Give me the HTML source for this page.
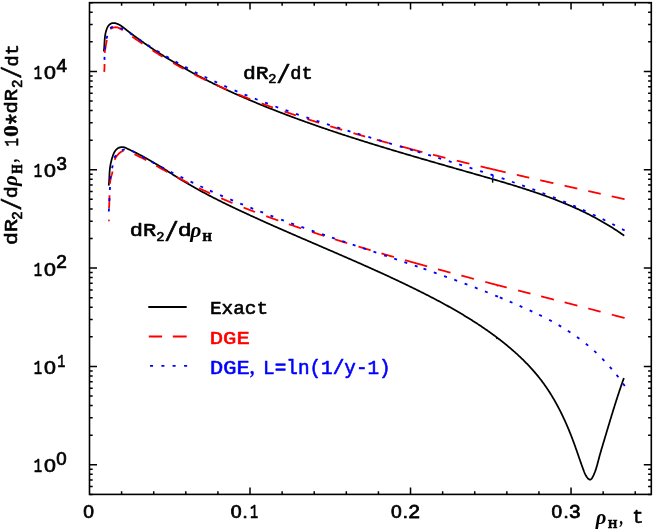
<!DOCTYPE html>
<html><head><meta charset="utf-8"><title>plot</title>
<style>
html,body{margin:0;padding:0;background:#fff;}
svg{display:block;font-family:"Liberation Sans",sans-serif;}
</style></head>
<body>
<svg width="654" height="531" viewBox="0 0 654 531" style="will-change:transform">
<rect width="654" height="531" fill="#fff"/>
<!-- curves -->
<g fill="none" stroke-linejoin="round">
<path d="M103.78 51.50 L103.91 50.50 L104.02 49.49 L104.12 48.49 L104.20 47.49 L104.27 46.49 L104.33 45.50 L104.39 44.50 L104.44 43.51 L104.50 42.52 L104.56 41.52 L104.62 40.53 L104.69 39.55 L104.78 38.56 L104.87 37.57 L104.99 36.59 L105.12 35.60 L105.28 34.62 L105.46 33.63 L105.67 32.65 L105.90 31.67 L106.18 30.69 L106.48 29.70 L106.83 28.73 L107.23 27.78 L107.70 26.86 L108.24 26.01 L108.86 25.23 L109.56 24.54 L110.34 23.96 L111.19 23.50 L112.10 23.19 L113.05 23.03 L114.04 23.03 L115.03 23.16 L116.02 23.40 L117.00 23.73 L117.93 24.11 L118.84 24.55 L119.72 25.03 L120.58 25.55 L121.42 26.10 L122.24 26.68 L123.05 27.27 L123.84 27.88 L124.63 28.50 L125.42 29.12 L126.21 29.74 L127.00 30.36 L127.80 30.98 L128.59 31.59 L129.39 32.20 L130.18 32.81 L130.98 33.42 L131.78 34.03 L132.58 34.63 L133.38 35.23 L134.18 35.83 L134.99 36.43 L135.79 37.03 L136.60 37.62 L137.41 38.21 L138.22 38.80 L139.03 39.39 L139.84 39.98 L140.65 40.56 L141.47 41.14 L142.28 41.72 L143.10 42.30 L143.92 42.87 L144.74 43.45 L145.56 44.02 L146.38 44.59 L147.20 45.16 L148.02 45.72 L148.85 46.29 L149.68 46.85 L150.50 47.41 L151.33 47.97 L152.16 48.53 L152.99 49.08 L153.83 49.63 L154.66 50.19 L155.49 50.73 L156.33 51.28 L157.17 51.83 L158.00 52.37 L158.84 52.91 L159.68 53.45 L160.53 53.99 L161.37 54.53 L162.21 55.06 L163.06 55.59 L163.90 56.12 L164.75 56.65 L165.60 57.18 L166.44 57.71 L167.29 58.23 L168.14 58.75 L169.00 59.27 L169.85 59.79 L170.70 60.31 L171.56 60.82 L172.41 61.34 L173.27 61.85 L174.13 62.36 L174.99 62.87 L175.85 63.37 L176.71 63.88 L177.57 64.38 L178.43 64.88 L179.30 65.38 L180.16 65.88 L181.03 66.38 L181.90 66.87 L182.76 67.37 L183.63 67.86 L184.50 68.35 L185.37 68.84 L186.24 69.32 L187.12 69.81 L187.99 70.29 L188.86 70.77 L189.74 71.25 L190.61 71.73 L191.49 72.21 L192.37 72.69 L193.25 73.16 L194.13 73.63 L195.01 74.10 L195.89 74.57 L196.77 75.04 L197.65 75.51 L198.53 75.97 L199.42 76.44 L200.30 76.90 L201.19 77.36 L202.08 77.82 L202.96 78.28 L203.85 78.73 L204.74 79.19 L205.63 79.64 L206.52 80.09 L207.41 80.54 L208.30 80.99 L209.20 81.44 L210.09 81.89 L210.99 82.33 L211.88 82.78 L212.78 83.22 L213.67 83.66 L214.57 84.10 L215.47 84.54 L216.37 84.97 L217.27 85.41 L218.17 85.84 L219.07 86.27 L219.97 86.70 L220.87 87.13 L221.77 87.56 L222.68 87.99 L223.58 88.42 L224.48 88.84 L225.39 89.26 L226.30 89.69 L227.20 90.11 L228.11 90.53 L229.02 90.94 L229.93 91.36 L230.83 91.78 L231.74 92.19 L232.65 92.61 L233.56 93.02 L234.48 93.43 L235.39 93.84 L236.30 94.25 L237.21 94.65 L238.13 95.06 L239.04 95.46 L239.96 95.87 L240.87 96.27 L241.79 96.67 L242.70 97.07 L243.62 97.47 L244.54 97.87 L245.45 98.27 L246.37 98.66 L247.29 99.06 L248.21 99.45 L249.13 99.84 L250.05 100.23 L250.97 100.62 L251.89 101.01 L252.81 101.40 L253.73 101.79 L254.66 102.17 L255.58 102.56 L256.50 102.94 L257.42 103.32 L258.35 103.71 L259.27 104.09 L260.20 104.47 L261.12 104.84 L262.05 105.22 L262.97 105.60 L263.90 105.97 L264.83 106.35 L265.75 106.72 L266.68 107.09 L267.61 107.47 L268.54 107.84 L269.47 108.21 L270.39 108.58 L271.32 108.94 L272.25 109.31 L273.18 109.68 L274.11 110.04 L275.04 110.41 L275.97 110.77 L276.90 111.13 L277.83 111.49 L278.77 111.85 L279.70 112.21 L280.63 112.57 L281.56 112.93 L282.49 113.29 L283.43 113.64 L284.36 114.00 L285.29 114.35 L286.23 114.71 L287.16 115.06 L288.10 115.41 L289.03 115.76 L289.97 116.11 L290.90 116.46 L291.84 116.81 L292.77 117.16 L293.71 117.51 L294.64 117.85 L295.58 118.20 L296.52 118.54 L297.45 118.89 L298.39 119.23 L299.33 119.57 L300.27 119.91 L301.21 120.26 L302.14 120.60 L303.08 120.93 L304.02 121.27 L304.96 121.61 L305.90 121.95 L306.84 122.28 L307.78 122.62 L308.72 122.95 L309.66 123.29 L310.60 123.62 L311.54 123.95 L312.48 124.29 L313.42 124.62 L314.37 124.95 L315.31 125.28 L316.25 125.60 L317.19 125.93 L318.14 126.26 L319.08 126.59 L320.02 126.91 L320.96 127.24 L321.91 127.56 L322.85 127.89 L323.80 128.21 L324.74 128.53 L325.68 128.86 L326.63 129.18 L327.57 129.50 L328.52 129.82 L329.47 130.14 L330.41 130.46 L331.36 130.78 L332.30 131.09 L333.25 131.41 L334.20 131.73 L335.14 132.04 L336.09 132.36 L337.04 132.67 L337.98 132.99 L338.93 133.30 L339.88 133.61 L340.83 133.92 L341.78 134.24 L342.72 134.55 L343.67 134.86 L344.62 135.17 L345.57 135.48 L346.52 135.79 L347.47 136.09 L348.42 136.40 L349.37 136.71 L350.32 137.02 L351.27 137.32 L352.22 137.63 L353.17 137.93 L354.12 138.24 L355.07 138.54 L356.02 138.84 L356.97 139.15 L357.92 139.45 L358.88 139.75 L359.83 140.05 L360.78 140.35 L361.73 140.65 L362.68 140.95 L363.64 141.25 L364.59 141.55 L365.54 141.85 L366.50 142.15 L367.45 142.45 L368.40 142.75 L369.36 143.04 L370.31 143.34 L371.26 143.63 L372.22 143.93 L373.17 144.23 L374.13 144.52 L375.08 144.81 L376.04 145.11 L376.99 145.40 L377.95 145.69 L378.90 145.99 L379.86 146.28 L380.81 146.57 L381.77 146.86 L382.72 147.15 L383.68 147.44 L384.64 147.73 L385.59 148.02 L386.55 148.31 L387.50 148.60 L388.46 148.89 L389.42 149.18 L390.37 149.47 L391.33 149.76 L392.29 150.04 L393.25 150.33 L394.20 150.62 L395.16 150.91 L396.12 151.19 L397.08 151.48 L398.03 151.76 L398.99 152.05 L399.95 152.33 L400.91 152.62 L401.87 152.90 L402.83 153.19 L403.78 153.47 L404.74 153.76 L405.70 154.04 L406.66 154.32 L407.62 154.60 L408.58 154.89 L409.54 155.17 L410.50 155.45 L411.46 155.73 L412.42 156.01 L413.38 156.30 L414.34 156.58 L415.30 156.86 L416.26 157.14 L417.22 157.42 L418.18 157.70 L419.14 157.98 L420.10 158.26 L421.06 158.54 L422.02 158.82 L422.98 159.10 L423.94 159.38 L424.90 159.66 L425.86 159.94 L426.82 160.21 L427.79 160.49 L428.75 160.77 L429.71 161.05 L430.67 161.33 L431.63 161.61 L432.59 161.88 L433.55 162.16 L434.52 162.44 L435.48 162.72 L436.44 162.99 L437.40 163.27 L438.36 163.55 L439.33 163.82 L440.29 164.10 L441.25 164.38 L442.21 164.65 L443.17 164.93 L444.14 165.21 L445.10 165.48 L446.06 165.76 L447.02 166.04 L447.99 166.31 L448.95 166.59 L449.91 166.86 L450.88 167.14 L451.84 167.42 L452.80 167.69 L453.76 167.97 L454.73 168.24 L455.69 168.52 L456.65 168.79 L457.62 169.07 L458.58 169.35 L459.54 169.62 L460.51 169.90 L461.47 170.17 L462.43 170.45 L463.40 170.72 L464.36 171.00 L465.32 171.28 L466.29 171.55 L467.25 171.83 L468.21 172.10 L469.18 172.38 L470.14 172.66 L471.10 172.93 L472.07 173.21 L473.03 173.48 L473.99 173.76 L474.96 174.04 L475.92 174.31 L476.88 174.59 L477.85 174.87 L478.81 175.14 L479.78 175.42 L480.74 175.69 L481.70 175.97 L482.67 176.25 L483.63 176.53 L484.59 176.80 L485.56 177.08 L486.52 177.36 L487.48 177.64 L488.45 177.91 L489.41 178.19 L490.37 178.47 L491.34 178.75 L492.30 179.03 L493.26 179.31 L494.23 179.59 L495.19 179.87 L496.15 180.15 L497.11 180.44 L498.07 180.72 L499.04 181.00 L500.00 181.28 L500.96 181.57 L501.92 181.85 L502.88 182.14 L503.84 182.42 L504.80 182.71 L505.76 183.00 L506.72 183.29 L507.68 183.57 L508.64 183.86 L509.60 184.15 L510.56 184.45 L511.51 184.74 L512.47 185.03 L513.43 185.33 L514.39 185.62 L515.34 185.92 L516.30 186.21 L517.25 186.51 L518.21 186.81 L519.16 187.11 L520.12 187.41 L521.07 187.71 L522.03 188.02 L522.98 188.32 L523.93 188.62 L524.88 188.93 L525.83 189.24 L526.79 189.55 L527.74 189.86 L528.69 190.17 L529.63 190.48 L530.58 190.80 L531.53 191.11 L532.48 191.43 L533.42 191.75 L534.37 192.07 L535.32 192.39 L536.26 192.71 L537.20 193.04 L538.15 193.36 L539.09 193.69 L540.03 194.02 L540.97 194.35 L541.91 194.68 L542.85 195.02 L543.79 195.35 L544.73 195.69 L545.67 196.03 L546.61 196.37 L547.54 196.71 L548.48 197.05 L549.41 197.40 L550.34 197.75 L551.28 198.10 L552.21 198.45 L553.14 198.80 L554.07 199.16 L555.00 199.52 L555.93 199.87 L556.85 200.24 L557.78 200.60 L558.71 200.96 L559.63 201.33 L560.55 201.70 L561.48 202.07 L562.40 202.45 L563.32 202.82 L564.24 203.20 L565.16 203.58 L566.08 203.97 L566.99 204.35 L567.91 204.74 L568.82 205.13 L569.74 205.52 L570.65 205.91 L571.56 206.31 L572.47 206.71 L573.38 207.11 L574.29 207.52 L575.19 207.92 L576.10 208.33 L577.00 208.74 L577.91 209.16 L578.81 209.57 L579.71 209.99 L580.61 210.41 L581.51 210.84 L582.41 211.27 L583.30 211.70 L584.20 212.13 L585.09 212.56 L585.98 213.00 L586.87 213.44 L587.76 213.89 L588.65 214.33 L589.54 214.78 L590.42 215.24 L591.31 215.69 L592.19 216.15 L593.07 216.61 L593.95 217.08 L594.83 217.54 L595.71 218.01 L596.58 218.49 L597.46 218.96 L598.33 219.44 L599.20 219.93 L600.07 220.41 L600.94 220.90 L601.81 221.39 L602.67 221.89 L603.54 222.39 L604.40 222.89 L605.26 223.40 L606.12 223.90 L606.98 224.42 L607.84 224.93 L608.69 225.45 L609.55 225.97 L610.40 226.50 L611.25 227.03 L612.10 227.56 L612.94 228.10 L613.79 228.64 L614.63 229.18 L615.47 229.73 L616.31 230.28 L617.15 230.83 L617.99 231.39 L618.82 231.95 L619.66 232.51 L620.49 233.08 L621.32 233.66 L622.15 234.23 L622.97 234.81 L623.80 235.40 L624.21 235.69" stroke="#000" stroke-width="1.75"/>
<path d="M108.70 185.70 L108.82 184.68 L108.93 183.67 L109.02 182.66 L109.09 181.66 L109.16 180.66 L109.22 179.66 L109.27 178.67 L109.32 177.68 L109.36 176.69 L109.40 175.71 L109.45 174.72 L109.50 173.74 L109.55 172.76 L109.62 171.77 L109.69 170.79 L109.77 169.81 L109.87 168.82 L109.98 167.83 L110.12 166.84 L110.27 165.84 L110.44 164.84 L110.64 163.84 L110.86 162.84 L111.09 161.84 L111.34 160.84 L111.61 159.84 L111.89 158.86 L112.17 157.88 L112.47 156.92 L112.77 155.97 L113.10 155.04 L113.46 154.12 L113.85 153.23 L114.29 152.36 L114.77 151.52 L115.32 150.71 L115.94 149.94 L116.63 149.24 L117.42 148.61 L118.29 148.07 L119.23 147.62 L120.22 147.30 L121.22 147.10 L122.23 147.05 L123.21 147.15 L124.18 147.37 L125.12 147.68 L126.06 148.06 L126.98 148.49 L127.90 148.92 L128.82 149.35 L129.73 149.79 L130.65 150.23 L131.55 150.67 L132.46 151.11 L133.36 151.55 L134.26 151.99 L135.16 152.44 L136.05 152.89 L136.94 153.34 L137.83 153.79 L138.72 154.24 L139.60 154.70 L140.48 155.16 L141.36 155.62 L142.24 156.08 L143.12 156.55 L143.99 157.02 L144.86 157.49 L145.73 157.97 L146.60 158.44 L147.46 158.93 L148.33 159.41 L149.19 159.90 L150.05 160.39 L150.91 160.89 L151.77 161.39 L152.63 161.89 L153.48 162.40 L154.34 162.91 L155.19 163.42 L156.05 163.94 L156.90 164.46 L157.75 164.98 L158.60 165.50 L159.45 166.03 L160.30 166.56 L161.15 167.09 L162.00 167.63 L162.84 168.16 L163.69 168.70 L164.54 169.24 L165.38 169.78 L166.23 170.32 L167.08 170.86 L167.92 171.40 L168.77 171.94 L169.62 172.48 L170.47 173.02 L171.31 173.57 L172.16 174.11 L173.01 174.65 L173.86 175.19 L174.71 175.73 L175.56 176.26 L176.41 176.80 L177.26 177.33 L178.11 177.87 L178.97 178.40 L179.82 178.93 L180.68 179.45 L181.54 179.98 L182.39 180.50 L183.25 181.02 L184.11 181.53 L184.97 182.05 L185.84 182.56 L186.70 183.07 L187.56 183.58 L188.43 184.09 L189.30 184.59 L190.16 185.09 L191.03 185.59 L191.90 186.09 L192.77 186.58 L193.64 187.08 L194.52 187.57 L195.39 188.06 L196.26 188.55 L197.14 189.03 L198.01 189.52 L198.89 190.00 L199.77 190.48 L200.65 190.96 L201.53 191.43 L202.41 191.91 L203.29 192.38 L204.17 192.85 L205.05 193.32 L205.94 193.79 L206.82 194.26 L207.70 194.72 L208.59 195.19 L209.48 195.65 L210.36 196.11 L211.25 196.57 L212.14 197.03 L213.03 197.48 L213.92 197.94 L214.81 198.39 L215.70 198.84 L216.59 199.29 L217.49 199.74 L218.38 200.19 L219.27 200.64 L220.17 201.08 L221.06 201.53 L221.96 201.97 L222.85 202.41 L223.75 202.85 L224.65 203.29 L225.54 203.73 L226.44 204.17 L227.34 204.60 L228.24 205.04 L229.14 205.47 L230.04 205.91 L230.94 206.34 L231.84 206.77 L232.74 207.20 L233.64 207.63 L234.55 208.06 L235.45 208.49 L236.35 208.92 L237.26 209.34 L238.16 209.77 L239.06 210.20 L239.97 210.62 L240.87 211.04 L241.78 211.47 L242.68 211.89 L243.59 212.31 L244.50 212.73 L245.40 213.15 L246.31 213.58 L247.22 213.99 L248.12 214.41 L249.03 214.83 L249.94 215.25 L250.85 215.67 L251.76 216.08 L252.66 216.50 L253.57 216.91 L254.48 217.33 L255.39 217.74 L256.30 218.16 L257.21 218.57 L258.12 218.98 L259.03 219.40 L259.94 219.81 L260.86 220.22 L261.77 220.63 L262.68 221.04 L263.59 221.45 L264.50 221.86 L265.41 222.27 L266.33 222.68 L267.24 223.08 L268.15 223.49 L269.07 223.90 L269.98 224.30 L270.89 224.71 L271.81 225.12 L272.72 225.52 L273.64 225.93 L274.55 226.33 L275.46 226.74 L276.38 227.14 L277.29 227.54 L278.21 227.95 L279.12 228.35 L280.04 228.75 L280.96 229.15 L281.87 229.56 L282.79 229.96 L283.70 230.36 L284.62 230.76 L285.54 231.16 L286.45 231.56 L287.37 231.96 L288.29 232.36 L289.20 232.76 L290.12 233.16 L291.04 233.56 L291.95 233.96 L292.87 234.36 L293.79 234.76 L294.71 235.15 L295.62 235.55 L296.54 235.95 L297.46 236.35 L298.38 236.75 L299.30 237.14 L300.21 237.54 L301.13 237.94 L302.05 238.33 L302.97 238.73 L303.89 239.13 L304.81 239.52 L305.72 239.92 L306.64 240.32 L307.56 240.71 L308.48 241.11 L309.40 241.51 L310.32 241.90 L311.24 242.30 L312.15 242.69 L313.07 243.09 L313.99 243.49 L314.91 243.88 L315.83 244.28 L316.75 244.67 L317.67 245.07 L318.59 245.47 L319.51 245.86 L320.42 246.26 L321.34 246.65 L322.26 247.05 L323.18 247.45 L324.10 247.84 L325.02 248.24 L325.94 248.63 L326.86 249.03 L327.77 249.43 L328.69 249.82 L329.61 250.22 L330.53 250.62 L331.45 251.01 L332.37 251.41 L333.28 251.81 L334.20 252.20 L335.12 252.60 L336.04 253.00 L336.96 253.40 L337.88 253.79 L338.79 254.19 L339.71 254.59 L340.63 254.99 L341.55 255.39 L342.46 255.78 L343.38 256.18 L344.30 256.58 L345.22 256.98 L346.13 257.38 L347.05 257.78 L347.97 258.18 L348.88 258.58 L349.80 258.98 L350.72 259.38 L351.63 259.79 L352.55 260.19 L353.46 260.59 L354.38 260.99 L355.30 261.39 L356.21 261.80 L357.13 262.20 L358.04 262.60 L358.96 263.01 L359.87 263.41 L360.79 263.82 L361.70 264.22 L362.62 264.63 L363.53 265.03 L364.44 265.44 L365.36 265.84 L366.27 266.25 L367.18 266.66 L368.10 267.07 L369.01 267.47 L369.92 267.88 L370.83 268.29 L371.75 268.70 L372.66 269.11 L373.57 269.52 L374.48 269.93 L375.39 270.35 L376.30 270.76 L377.21 271.17 L378.13 271.58 L379.04 272.00 L379.95 272.41 L380.85 272.83 L381.76 273.24 L382.67 273.66 L383.58 274.07 L384.49 274.49 L385.40 274.91 L386.31 275.33 L387.21 275.74 L388.12 276.16 L389.03 276.58 L389.94 277.00 L390.84 277.43 L391.75 277.85 L392.65 278.27 L393.56 278.69 L394.47 279.12 L395.37 279.54 L396.28 279.97 L397.18 280.39 L398.08 280.82 L398.99 281.25 L399.89 281.67 L400.79 282.10 L401.70 282.53 L402.60 282.96 L403.50 283.39 L404.40 283.83 L405.30 284.26 L406.20 284.69 L407.10 285.13 L408.00 285.56 L408.90 286.00 L409.80 286.43 L410.70 286.87 L411.60 287.31 L412.50 287.75 L413.39 288.19 L414.29 288.63 L415.19 289.07 L416.08 289.51 L416.98 289.95 L417.87 290.40 L418.77 290.84 L419.66 291.29 L420.56 291.73 L421.45 292.18 L422.34 292.63 L423.24 293.08 L424.13 293.53 L425.02 293.98 L425.91 294.43 L426.80 294.89 L427.69 295.34 L428.58 295.80 L429.47 296.25 L430.36 296.71 L431.25 297.17 L432.13 297.63 L433.02 298.09 L433.91 298.55 L434.79 299.02 L435.68 299.48 L436.56 299.95 L437.44 300.41 L438.33 300.88 L439.21 301.35 L440.09 301.82 L440.97 302.30 L441.85 302.77 L442.73 303.25 L443.60 303.72 L444.48 304.20 L445.36 304.68 L446.23 305.16 L447.11 305.64 L447.98 306.13 L448.85 306.61 L449.73 307.10 L450.60 307.59 L451.47 308.08 L452.34 308.57 L453.21 309.06 L454.07 309.56 L454.94 310.05 L455.80 310.55 L456.67 311.05 L457.53 311.55 L458.39 312.06 L459.26 312.56 L460.12 313.07 L460.98 313.58 L461.83 314.09 L462.69 314.60 L463.55 315.11 L464.40 315.63 L465.26 316.14 L466.11 316.66 L466.96 317.19 L467.81 317.71 L468.66 318.23 L469.51 318.76 L470.35 319.29 L471.20 319.82 L472.04 320.35 L472.89 320.89 L473.73 321.43 L474.57 321.96 L475.41 322.51 L476.25 323.05 L477.08 323.59 L477.92 324.14 L478.75 324.69 L479.59 325.24 L480.42 325.80 L481.25 326.35 L482.08 326.91 L482.90 327.47 L483.73 328.04 L484.55 328.60 L485.38 329.17 L486.20 329.74 L487.02 330.31 L487.84 330.89 L488.66 331.46 L489.47 332.04 L490.28 332.63 L491.10 333.21 L491.91 333.80 L492.72 334.39 L493.53 334.98 L494.33 335.57 L495.14 336.17 L495.94 336.77 L496.74 337.37 L497.54 337.98 L498.34 338.58 L499.14 339.19 L499.93 339.81 L500.72 340.42 L501.52 341.04 L502.30 341.66 L503.09 342.28 L503.88 342.91 L504.66 343.54 L505.44 344.17 L506.22 344.80 L507.00 345.44 L507.77 346.08 L508.54 346.72 L509.31 347.37 L510.08 348.01 L510.84 348.66 L511.61 349.32 L512.36 349.97 L513.12 350.63 L513.88 351.30 L514.63 351.96 L515.38 352.63 L516.12 353.30 L516.86 353.98 L517.60 354.65 L518.34 355.33 L519.08 356.02 L519.81 356.70 L520.53 357.39 L521.26 358.08 L521.98 358.78 L522.70 359.48 L523.41 360.18 L524.12 360.88 L524.83 361.59 L525.54 362.30 L526.24 363.02 L526.93 363.73 L527.63 364.45 L528.32 365.18 L529.00 365.90 L529.69 366.63 L530.36 367.37 L531.04 368.10 L531.71 368.84 L532.38 369.58 L533.04 370.33 L533.70 371.08 L534.35 371.83 L535.00 372.59 L535.65 373.35 L536.29 374.11 L536.93 374.88 L537.56 375.65 L538.19 376.42 L538.81 377.20 L539.43 377.98 L540.04 378.76 L540.65 379.55 L541.26 380.34 L541.86 381.13 L542.45 381.93 L543.05 382.73 L543.63 383.53 L544.21 384.34 L544.79 385.15 L545.36 385.97 L545.93 386.78 L546.49 387.60 L547.05 388.43 L547.61 389.25 L548.16 390.08 L548.70 390.92 L549.24 391.75 L549.78 392.59 L550.31 393.43 L550.84 394.28 L551.37 395.12 L551.89 395.97 L552.40 396.83 L552.91 397.68 L553.42 398.54 L553.93 399.40 L554.43 400.26 L554.92 401.13 L555.41 402.00 L555.90 402.87 L556.38 403.74 L556.86 404.62 L557.34 405.50 L557.81 406.38 L558.28 407.26 L558.75 408.14 L559.21 409.03 L559.66 409.92 L560.12 410.81 L560.57 411.70 L561.01 412.60 L561.46 413.50 L561.90 414.40 L562.33 415.30 L562.77 416.20 L563.19 417.11 L563.62 418.01 L564.04 418.92 L564.46 419.83 L564.88 420.74 L565.29 421.66 L565.70 422.57 L566.10 423.49 L566.51 424.41 L566.91 425.33 L567.30 426.25 L567.70 427.17 L568.09 428.09 L568.47 429.02 L568.86 429.95 L569.24 430.87 L569.62 431.80 L569.99 432.73 L570.37 433.66 L570.74 434.60 L571.10 435.53 L571.47 436.46 L571.83 437.40 L572.19 438.33 L572.54 439.27 L572.90 440.21 L573.25 441.15 L573.60 442.09 L573.94 443.03 L574.29 443.97 L574.63 444.91 L574.97 445.85 L575.30 446.80 L575.64 447.74 L575.97 448.68 L576.30 449.63 L576.63 450.57 L576.96 451.52 L577.29 452.46 L577.61 453.40 L577.94 454.35 L578.27 455.29 L578.59 456.24 L578.92 457.18 L579.25 458.13 L579.57 459.07 L579.90 460.02 L580.23 460.96 L580.56 461.90 L580.89 462.85 L581.22 463.79 L581.56 464.73 L581.89 465.67 L582.23 466.61 L582.57 467.55 L582.91 468.49 L583.26 469.42 L583.61 470.36 L583.96 471.30 L584.33 472.23 L584.71 473.15 L585.13 474.06 L585.58 474.95 L586.07 475.83 L586.61 476.69 L587.21 477.52 L587.87 478.33 L588.61 479.08 L589.41 479.59 L590.26 479.61 L591.06 479.21 L591.73 478.54 L592.29 477.69 L592.80 476.76 L593.27 475.82 L593.72 474.88 L594.13 473.94 L594.53 473.00 L594.91 472.05 L595.26 471.11 L595.60 470.16 L595.91 469.21 L596.22 468.26 L596.51 467.31 L596.79 466.36 L597.06 465.40 L597.32 464.45 L597.58 463.49 L597.83 462.54 L598.08 461.58 L598.33 460.62 L598.58 459.66 L598.83 458.70 L599.08 457.74 L599.34 456.78 L599.60 455.82 L599.87 454.86 L600.14 453.90 L600.41 452.93 L600.69 451.97 L600.97 451.01 L601.25 450.05 L601.53 449.08 L601.82 448.12 L602.10 447.16 L602.39 446.19 L602.68 445.23 L602.97 444.27 L603.26 443.31 L603.55 442.34 L603.84 441.38 L604.13 440.42 L604.41 439.46 L604.70 438.50 L604.99 437.54 L605.28 436.58 L605.57 435.62 L605.85 434.66 L606.14 433.70 L606.43 432.74 L606.71 431.79 L607.00 430.83 L607.29 429.87 L607.57 428.91 L607.86 427.96 L608.15 427.00 L608.43 426.05 L608.72 425.09 L609.01 424.13 L609.30 423.18 L609.58 422.22 L609.87 421.27 L610.16 420.32 L610.45 419.36 L610.74 418.41 L611.03 417.45 L611.32 416.50 L611.61 415.55 L611.90 414.60 L612.19 413.64 L612.49 412.69 L612.78 411.74 L613.07 410.79 L613.37 409.83 L613.66 408.88 L613.96 407.93 L614.25 406.98 L614.55 406.03 L614.85 405.08 L615.15 404.13 L615.45 403.18 L615.75 402.22 L616.06 401.27 L616.36 400.32 L616.66 399.37 L616.97 398.42 L617.28 397.47 L617.59 396.52 L617.90 395.57 L618.21 394.62 L618.52 393.67 L618.83 392.72 L619.15 391.77 L619.46 390.82 L619.78 389.87 L620.10 388.92 L620.42 387.97 L620.75 387.02 L621.07 386.07 L621.40 385.12 L621.73 384.17 L622.06 383.22 L622.39 382.27 L622.72 381.33 L623.05 380.38 L623.39 379.43 L623.73 378.47 L623.90 378.00" stroke="#000" stroke-width="1.75"/>
<path d="M492.5 179 L492.7 182.6" stroke="#000" stroke-width="1.4"/>
<path d="M491.6 174.6 L493.2 176 L492.6 178.6" stroke="#00f" stroke-width="1.3"/>
<path d="M497.2 337.5 l-0.6 1.6" stroke="#000" stroke-width="1.2"/>
<path d="M497.3 285 l0 1.6" stroke="#f00" stroke-width="1.2"/>
<path d="M104.20 71.90 L104.25 71.41 L104.29 70.91 L104.33 70.41 L104.37 69.91 L104.40 69.42 L104.42 68.92 L104.45 68.42 L104.46 67.92 L104.48 67.42 L104.49 66.91 L104.50 66.41 L104.51 65.91 L104.51 65.41 L104.51 64.91 L104.51 64.40 L104.51 63.90 M104.74 52.91 L104.78 52.42 L104.84 51.93 L104.89 51.44 L104.95 50.95 L105.02 50.46 L105.09 49.97 L105.16 49.48 L105.24 48.99 L105.32 48.51 L105.40 48.02 L105.48 47.52 L105.57 47.03 L105.65 46.54 L105.74 46.05 L105.83 45.55 L105.92 45.05 L106.01 44.55 L106.10 44.05 L106.19 43.55 L106.28 43.05 L106.36 42.54 L106.45 42.03 L106.54 41.51 L106.62 41.00 L106.70 40.48 L106.78 39.96 M110.40 29.17 L110.76 28.86 L111.15 28.58 L111.56 28.32 L111.99 28.09 L112.44 27.88 L112.90 27.70 L113.37 27.55 L113.85 27.43 L114.34 27.34 L114.84 27.28 L115.33 27.25 L115.82 27.26 L116.31 27.30 L116.79 27.37 L117.27 27.48 L117.74 27.61 L118.21 27.76 L118.67 27.94 L119.14 28.14 L119.59 28.36 L120.05 28.59 L120.50 28.84 L120.94 29.10 L121.39 29.36 L121.83 29.64 L122.26 29.92 L122.70 30.20 M132.20 36.66 L132.61 36.94 L133.01 37.22 L133.42 37.50 L133.83 37.78 L134.23 38.06 L134.64 38.35 L135.05 38.63 L135.46 38.91 L135.86 39.19 L136.27 39.47 L136.68 39.75 L137.09 40.03 L137.50 40.31 L137.91 40.60 L138.32 40.88 L138.73 41.16 L139.14 41.44 L139.55 41.72 L139.96 42.00 L140.38 42.28 L140.79 42.56 L141.20 42.84 L141.61 43.12 L142.03 43.40 L142.44 43.68 M152.45 50.32 L152.87 50.59 L153.29 50.87 L153.72 51.14 L154.14 51.41 L154.56 51.68 L154.98 51.95 L155.41 52.22 L155.83 52.49 L156.25 52.76 L156.67 53.03 L157.10 53.30 L157.52 53.57 L157.95 53.84 L158.37 54.11 L158.80 54.37 L159.22 54.64 L159.65 54.91 L160.07 55.17 L160.50 55.44 L160.93 55.70 L161.35 55.97 L161.78 56.23 L162.21 56.49 L162.63 56.75 M173.19 63.02 L173.62 63.27 L174.05 63.52 L174.49 63.77 L174.92 64.01 L175.36 64.26 L175.79 64.51 L176.23 64.75 L176.66 65.00 L177.10 65.25 L177.54 65.49 L177.97 65.73 L178.41 65.98 L178.85 66.22 L179.28 66.46 L179.72 66.71 L180.16 66.95 L180.60 67.19 L181.03 67.43 L181.47 67.67 L181.91 67.91 L182.35 68.15 L182.79 68.39 L183.23 68.62 L183.67 68.86 M194.51 74.54 L194.95 74.76 L195.40 74.99 L195.84 75.21 L196.29 75.44 L196.74 75.66 L197.18 75.89 L197.63 76.11 L198.08 76.33 L198.52 76.55 L198.97 76.77 L199.42 77.00 L199.86 77.22 L200.31 77.44 L200.76 77.66 L201.21 77.88 L201.66 78.10 L202.11 78.31 L202.55 78.53 L203.00 78.75 L203.45 78.97 L203.90 79.19 L204.35 79.40 L204.80 79.62 L205.25 79.83 L205.70 80.05 L205.93 80.16 M216.34 84.99 L216.79 85.19 L217.25 85.40 L217.70 85.60 L218.16 85.81 L218.61 86.01 L219.07 86.22 L219.52 86.42 L219.98 86.62 L220.44 86.82 L220.89 87.02 L221.35 87.23 L221.81 87.43 L222.26 87.63 L222.72 87.83 L223.18 88.03 L223.63 88.23 L224.09 88.43 L224.55 88.63 L225.01 88.82 L225.47 89.02 L225.92 89.22 L226.38 89.42 L226.84 89.61 L227.30 89.81 M238.36 94.43 L238.82 94.61 L239.28 94.80 L239.75 94.99 L240.21 95.18 L240.67 95.36 L241.14 95.55 L241.60 95.73 L242.06 95.92 L242.53 96.11 L242.99 96.29 L243.46 96.48 L243.92 96.66 L244.38 96.84 L244.85 97.03 L245.31 97.21 L245.78 97.39 L246.24 97.58 L246.71 97.76 L247.17 97.94 L247.64 98.12 L248.10 98.31 L248.57 98.49 L249.03 98.67 L249.50 98.85 L249.97 99.03 L250.20 99.12 M261.65 103.44 L262.12 103.62 L262.59 103.79 L263.06 103.96 L263.53 104.13 L264.00 104.31 L264.47 104.48 L264.94 104.65 L265.41 104.82 L265.88 104.99 L266.35 105.16 L266.82 105.33 L267.29 105.50 L267.76 105.67 L268.23 105.84 L268.70 106.01 L269.17 106.18 L269.64 106.35 L270.11 106.52 L270.58 106.69 L271.06 106.85 L271.53 107.02 L272.00 107.19 L272.47 107.36 L272.94 107.52 M284.52 111.55 L284.99 111.71 L285.46 111.87 L285.94 112.03 L286.41 112.19 L286.88 112.35 L287.36 112.51 L287.83 112.67 L288.31 112.83 L288.78 112.99 L289.25 113.15 L289.73 113.31 L290.20 113.47 L290.68 113.63 L291.15 113.79 L291.63 113.95 L292.10 114.10 L292.57 114.26 L293.05 114.42 L293.52 114.58 L294.00 114.74 L294.47 114.89 L294.95 115.05 L295.42 115.21 L295.90 115.36 M307.31 119.08 L307.79 119.23 L308.27 119.39 L308.74 119.54 L309.22 119.69 L309.70 119.84 L310.17 120.00 L310.65 120.15 L311.13 120.30 L311.60 120.45 L312.08 120.60 L312.56 120.75 L313.03 120.90 L313.51 121.06 L313.99 121.21 L314.46 121.36 L314.94 121.51 L315.42 121.66 L315.89 121.81 L316.37 121.96 L316.85 122.11 L317.32 122.26 L317.80 122.41 L318.28 122.56 L318.76 122.71 L318.99 122.78 M330.22 126.25 L330.70 126.40 L331.18 126.54 L331.65 126.69 L332.13 126.84 L332.61 126.98 L333.09 127.13 L333.57 127.27 L334.05 127.42 L334.52 127.56 L335.00 127.71 L335.48 127.85 L335.96 128.00 L336.44 128.14 L336.92 128.28 L337.40 128.43 L337.87 128.57 L338.35 128.72 L338.83 128.86 L339.31 129.00 L339.79 129.15 L340.27 129.29 L340.75 129.43 L341.23 129.58 L341.70 129.72 L342.18 129.86 M353.45 133.18 L353.93 133.32 L354.41 133.46 L354.89 133.60 L355.37 133.74 L355.85 133.88 L356.33 134.02 L356.81 134.16 L357.29 134.29 L357.77 134.43 L358.25 134.57 L358.73 134.71 L359.21 134.85 L359.69 134.99 L360.17 135.12 L360.65 135.26 L361.13 135.40 L361.61 135.54 L362.09 135.68 L362.57 135.81 L363.05 135.95 L363.53 136.09 L364.01 136.22 L364.49 136.36 L364.97 136.50 L365.21 136.57 M376.76 139.82 L377.24 139.95 L377.72 140.08 L378.20 140.22 L378.68 140.35 L379.17 140.48 L379.65 140.62 L380.13 140.75 L380.61 140.88 L381.09 141.02 L381.57 141.15 L382.06 141.28 L382.54 141.42 L383.02 141.55 L383.50 141.68 L383.98 141.81 L384.46 141.95 L384.95 142.08 L385.43 142.21 L385.91 142.34 L386.39 142.47 L386.87 142.60 L387.36 142.74 L387.84 142.87 L388.32 143.00 L388.80 143.13 M400.14 146.19 L400.62 146.32 L401.10 146.44 L401.59 146.57 L402.07 146.70 L402.55 146.83 L403.04 146.96 L403.52 147.09 L404.00 147.21 L404.48 147.34 L404.97 147.47 L405.45 147.60 L405.93 147.73 L406.42 147.85 L406.90 147.98 L407.38 148.11 L407.87 148.24 L408.35 148.36 L408.83 148.49 L409.31 148.62 L409.80 148.74 L410.28 148.87 L410.76 149.00 L411.25 149.12 L411.73 149.25 L412.21 149.38 L412.70 149.50 L413.18 149.63 L413.66 149.76 L414.15 149.88 L414.63 150.01 L415.12 150.13 L415.60 150.26 L416.08 150.39 L416.57 150.51 L417.05 150.64 L417.53 150.76 L418.02 150.89 L418.50 151.01 L418.98 151.14 L419.47 151.26 L419.95 151.39 L420.44 151.51 L420.92 151.64 L421.40 151.76 L421.89 151.89 L422.37 152.01 M433.02 154.73 L433.51 154.85 L433.99 154.98 L434.48 155.10 L434.96 155.22 L435.44 155.34 L435.93 155.47 L436.41 155.59 L436.90 155.71 L437.38 155.83 L437.87 155.95 L438.35 156.08 L438.84 156.20 L439.32 156.32 L439.81 156.44 L440.29 156.56 L440.78 156.68 L441.26 156.80 L441.74 156.93 L442.23 157.05 L442.71 157.17 L443.20 157.29 L443.68 157.41 L444.17 157.53 L444.65 157.65 L445.14 157.77 L445.38 157.83 M456.78 160.65 L457.27 160.77 L457.75 160.89 L458.24 161.00 L458.72 161.12 L459.21 161.24 L459.69 161.36 L460.18 161.48 L460.67 161.60 L461.15 161.72 L461.64 161.83 L462.12 161.95 L462.61 162.07 L463.09 162.19 L463.58 162.31 L464.06 162.42 L464.55 162.54 L465.04 162.66 L465.52 162.78 L466.01 162.90 L466.49 163.01 L466.98 163.13 L467.46 163.25 L467.95 163.37 L468.44 163.48 L468.92 163.60 L469.41 163.72 M480.59 166.40 L481.07 166.51 L481.56 166.63 L482.04 166.74 L482.53 166.86 L483.02 166.97 L483.50 167.09 L483.99 167.21 L484.48 167.32 L484.96 167.44 L485.45 167.55 L485.93 167.67 L486.42 167.78 L486.91 167.90 L487.39 168.01 L487.88 168.13 L488.37 168.24 L488.85 168.36 L489.34 168.47 L489.83 168.59 L490.31 168.70 L490.80 168.82 L491.29 168.93 L491.77 169.05 L492.26 169.16 L492.74 169.27 L493.23 169.39 L493.72 169.50 L494.20 169.62 L494.69 169.73 L495.18 169.85 L495.66 169.96 L496.15 170.07 L496.64 170.19 L497.12 170.30 L497.61 170.42 L498.10 170.53 L498.58 170.64 L499.07 170.76 L499.56 170.87 L500.04 170.99 L500.53 171.10 L501.02 171.21 L501.50 171.33 L501.99 171.44 L502.48 171.55 L502.96 171.67 L503.45 171.78 L503.94 171.89 L504.43 172.01 L504.91 172.12 L505.40 172.23 L505.64 172.29 M516.84 174.88 L517.33 174.99 L517.82 175.11 L518.30 175.22 L518.79 175.33 L519.28 175.44 L519.77 175.56 L520.25 175.67 L520.74 175.78 L521.23 175.89 L521.71 176.00 L522.20 176.11 L522.69 176.23 L523.18 176.34 L523.66 176.45 L524.15 176.56 L524.64 176.67 L525.13 176.79 L525.61 176.90 L526.10 177.01 L526.59 177.12 L527.07 177.23 L527.56 177.34 L528.05 177.45 L528.54 177.57 L529.02 177.68 L529.27 177.73 M540.23 180.23 L540.72 180.34 L541.21 180.45 L541.70 180.56 L542.18 180.67 L542.67 180.78 L543.16 180.89 L543.65 181.00 L544.13 181.11 L544.62 181.23 L545.11 181.34 L545.60 181.45 L546.08 181.56 L546.57 181.67 L547.06 181.78 L547.55 181.89 L548.03 182.00 L548.52 182.11 L549.01 182.22 L549.50 182.33 L549.98 182.44 L550.47 182.55 L550.96 182.66 L551.45 182.77 L551.93 182.88 L552.42 182.99 L552.91 183.10 L553.40 183.21 M564.61 185.74 L565.10 185.85 L565.59 185.96 L566.08 186.07 L566.56 186.18 L567.05 186.29 L567.54 186.39 L568.03 186.50 L568.52 186.61 L569.00 186.72 L569.49 186.83 L569.98 186.94 L570.47 187.05 L570.95 187.16 L571.44 187.27 L571.93 187.38 L572.42 187.49 L572.90 187.60 L573.39 187.71 L573.88 187.82 L574.37 187.93 L574.86 188.04 L575.34 188.15 L575.83 188.26 L576.32 188.37 L576.81 188.48 L577.29 188.59 M588.27 191.05 L588.76 191.16 L589.24 191.26 L589.73 191.37 L590.22 191.48 L590.71 191.59 L591.20 191.70 L591.68 191.81 L592.17 191.92 L592.66 192.03 L593.15 192.14 L593.63 192.25 L594.12 192.36 L594.61 192.47 L595.10 192.58 L595.58 192.69 L596.07 192.80 L596.56 192.90 L597.05 193.01 L597.54 193.12 L598.02 193.23 L598.51 193.34 L599.00 193.45 L599.49 193.56 L599.97 193.67 L600.46 193.78 L600.71 193.83 M611.68 196.30 L612.17 196.41 L612.65 196.52 L613.14 196.63 L613.63 196.74 L614.12 196.85 L614.60 196.96 L615.09 197.06 L615.58 197.17 L616.07 197.28 L616.55 197.39 L617.04 197.50 L617.53 197.61 L618.02 197.72 L618.50 197.83 L618.99 197.94 L619.48 198.05 L619.97 198.16 L620.45 198.27 L620.94 198.38 L621.43 198.49 L621.92 198.60 L622.40 198.71 L622.89 198.82 L623.38 198.93 L623.87 199.04 L624.35 199.15 L624.60 199.21" stroke="#f00" stroke-width="1.8"/>
<path d="M109.00 219.59 L108.88 220.63 L108.82 220.59 M108.97 208.32 L109.02 207.81 L109.06 207.30 L109.09 206.80 L109.13 206.29 L109.16 205.78 L109.19 205.28 L109.22 204.77 L109.25 204.26 L109.27 203.76 L109.29 203.25 L109.31 202.75 L109.33 202.24 L109.35 201.74 L109.37 201.23 L109.38 200.73 L109.39 200.22 L109.41 199.72 L109.42 199.21 L109.43 198.71 L109.44 198.21 L109.45 197.71 L109.46 197.20 L109.47 196.70 L109.48 196.20 L109.49 195.70 L109.49 195.20 M109.98 183.80 L110.02 183.31 L110.07 182.82 L110.12 182.33 L110.18 181.84 L110.24 181.36 L110.30 180.87 L110.37 180.38 L110.45 179.89 L110.54 179.41 L110.63 178.92 L110.72 178.43 L110.83 177.94 L110.94 177.46 L111.07 176.97 L111.20 176.48 L111.34 175.99 L111.48 175.50 L111.63 175.01 L111.77 174.51 L111.92 174.02 L112.07 173.53 L112.21 173.03 L112.34 172.54 L112.47 172.04 L112.59 171.54 M114.67 159.78 L114.84 159.33 L115.03 158.88 L115.24 158.44 L115.46 158.01 L115.69 157.58 L115.94 157.16 L116.21 156.74 L116.49 156.33 L116.78 155.93 L117.09 155.54 L117.41 155.15 L117.74 154.76 L118.09 154.39 L118.46 154.02 L118.83 153.66 L119.22 153.31 L119.62 152.97 L120.03 152.65 L120.45 152.35 L120.88 152.06 L121.31 151.79 L121.75 151.55 L122.20 151.33 L122.65 151.15 L123.11 150.99 L123.57 150.86 M134.48 154.16 L134.96 154.41 L135.44 154.67 L135.92 154.91 L136.40 155.16 L136.88 155.41 L137.36 155.65 L137.84 155.89 L138.32 156.13 L138.80 156.37 L139.28 156.61 L139.75 156.85 L140.23 157.09 L140.70 157.32 L141.17 157.56 L141.64 157.79 L142.11 158.03 L142.58 158.26 L143.05 158.49 L143.51 158.73 L143.97 158.96 L144.44 159.19 L144.89 159.43 L145.35 159.66 L145.81 159.90 L146.26 160.13 M156.21 165.72 L156.63 165.97 L157.06 166.21 L157.48 166.45 L157.91 166.70 L158.33 166.94 L158.76 167.18 L159.18 167.43 L159.61 167.67 L160.03 167.91 L160.46 168.15 L160.89 168.39 L161.31 168.64 L161.74 168.88 L162.17 169.12 L162.60 169.36 L163.03 169.60 L163.45 169.84 L163.88 170.08 L164.31 170.31 L164.74 170.55 L165.17 170.79 L165.60 171.03 L166.03 171.27 L166.46 171.50 L166.89 171.74 L167.32 171.98 M177.09 177.22 L177.52 177.45 L177.96 177.68 L178.40 177.90 L178.84 178.13 L179.27 178.36 L179.71 178.59 L180.15 178.82 L180.59 179.04 L181.03 179.27 L181.47 179.49 L181.91 179.72 L182.35 179.95 L182.79 180.17 L183.23 180.40 L183.67 180.62 L184.11 180.85 L184.55 181.07 L184.99 181.29 L185.43 181.52 L185.87 181.74 L186.31 181.96 L186.76 182.19 L187.20 182.41 L187.64 182.63 L188.08 182.85 L188.31 182.96 M199.00 188.18 L199.45 188.39 L199.90 188.61 L200.35 188.82 L200.80 189.03 L201.24 189.24 L201.69 189.46 L202.14 189.67 L202.59 189.88 L203.04 190.09 L203.49 190.30 L203.94 190.51 L204.39 190.72 L204.85 190.93 L205.30 191.14 L205.75 191.35 L206.20 191.56 L206.65 191.77 L207.10 191.98 L207.55 192.18 L208.01 192.39 L208.46 192.60 L208.91 192.81 L209.36 193.01 L209.82 193.22 L210.27 193.42 M221.20 198.28 L221.66 198.48 L222.12 198.67 L222.58 198.87 L223.03 199.07 L223.49 199.27 L223.95 199.46 L224.41 199.66 L224.87 199.86 L225.33 200.05 L225.79 200.25 L226.25 200.44 L226.70 200.64 L227.16 200.83 L227.62 201.03 L228.08 201.22 L228.54 201.42 L229.00 201.61 L229.46 201.80 L229.93 202.00 L230.39 202.19 L230.85 202.38 L231.31 202.57 L231.77 202.76 L232.23 202.96 L232.46 203.05 M243.58 207.55 L244.04 207.74 L244.51 207.92 L244.97 208.11 L245.44 208.29 L245.91 208.47 L246.37 208.65 L246.84 208.84 L247.30 209.02 L247.77 209.20 L248.23 209.38 L248.70 209.56 L249.17 209.75 L249.63 209.93 L250.10 210.11 L250.57 210.29 L251.03 210.47 L251.50 210.65 L251.97 210.83 L252.43 211.01 L252.90 211.18 L253.37 211.36 L253.84 211.54 L254.30 211.72 L254.77 211.90 L255.01 211.99 M266.27 216.19 L266.74 216.36 L267.21 216.53 L267.68 216.70 L268.15 216.87 L268.62 217.04 L269.09 217.22 L269.56 217.39 L270.03 217.56 L270.50 217.73 L270.97 217.90 L271.44 218.07 L271.92 218.24 L272.39 218.41 L272.86 218.58 L273.33 218.75 L273.80 218.91 L274.27 219.08 L274.75 219.25 L275.22 219.42 L275.69 219.59 L276.16 219.76 L276.63 219.92 L277.11 220.09 L277.58 220.26 L278.05 220.43 L278.29 220.51 M288.93 224.22 L289.41 224.38 L289.88 224.54 L290.35 224.71 L290.83 224.87 L291.30 225.03 L291.78 225.19 L292.25 225.36 L292.72 225.52 L293.20 225.68 L293.67 225.84 L294.15 226.00 L294.62 226.16 L295.10 226.32 L295.57 226.48 L296.04 226.65 L296.52 226.81 L296.99 226.97 L297.47 227.13 L297.94 227.29 L298.42 227.45 L298.89 227.61 L299.37 227.77 L299.84 227.93 L300.32 228.08 L300.79 228.24 L301.27 228.40 M311.96 231.95 L312.44 232.10 L312.91 232.26 L313.39 232.41 L313.86 232.57 L314.34 232.72 L314.81 232.88 L315.29 233.04 L315.77 233.19 L316.24 233.35 L316.72 233.50 L317.19 233.65 L317.67 233.81 L318.15 233.96 L318.62 234.12 L319.10 234.27 L319.57 234.43 L320.05 234.58 L320.53 234.73 L321.00 234.89 L321.48 235.04 L321.96 235.19 L322.43 235.35 L322.91 235.50 L323.38 235.65 L323.86 235.81 L324.34 235.96 M334.83 239.29 L335.30 239.44 L335.78 239.59 L336.26 239.74 L336.73 239.89 L337.21 240.04 L337.69 240.19 L338.17 240.34 L338.64 240.49 L339.12 240.63 L339.60 240.78 L340.08 240.93 L340.55 241.08 L341.03 241.23 L341.51 241.38 L341.98 241.53 L342.46 241.67 L342.94 241.82 L343.42 241.97 L343.89 242.12 L344.37 242.27 L344.85 242.41 L345.33 242.56 L345.81 242.71 L346.28 242.86 L346.76 243.00 L347.24 243.15 M358.47 246.58 L358.95 246.72 L359.43 246.87 L359.91 247.01 L360.39 247.15 L360.87 247.30 L361.34 247.44 L361.82 247.59 L362.30 247.73 L362.78 247.87 L363.26 248.02 L363.74 248.16 L364.22 248.30 L364.70 248.45 L365.17 248.59 L365.65 248.73 L366.13 248.88 L366.61 249.02 L367.09 249.16 L367.57 249.31 L368.05 249.45 L368.53 249.59 L369.00 249.73 L369.48 249.87 L369.96 250.02 L370.44 250.16 L370.68 250.23 M381.47 253.40 L381.95 253.54 L382.42 253.68 L382.90 253.82 L383.38 253.96 L383.86 254.10 L384.34 254.24 L384.82 254.38 L385.30 254.52 L385.78 254.66 L386.26 254.79 L386.74 254.93 L387.22 255.07 L387.70 255.21 L388.18 255.35 L388.66 255.49 L389.14 255.63 L389.62 255.77 L390.10 255.90 L390.58 256.04 L391.06 256.18 L391.54 256.32 L392.02 256.46 L392.50 256.59 L392.98 256.73 L393.46 256.87 L393.94 257.01 M404.99 260.15 L405.47 260.28 L405.95 260.42 L406.43 260.56 L406.91 260.69 L407.39 260.83 L407.87 260.96 L408.36 261.10 L408.84 261.23 L409.32 261.37 L409.80 261.50 L410.28 261.64 L410.76 261.77 L411.24 261.91 L411.72 262.04 L412.20 262.18 L412.68 262.31 L413.16 262.45 L413.64 262.58 L414.13 262.71 L414.61 262.85 L415.09 262.98 L415.57 263.12 L416.05 263.25 L416.53 263.38 L417.01 263.52 L417.49 263.65 L417.97 263.79 L418.46 263.92 L418.94 264.05 L419.42 264.19 L419.90 264.32 L420.38 264.45 L420.86 264.59 L421.34 264.72 L421.82 264.85 L422.31 264.99 L422.79 265.12 L423.27 265.25 L423.75 265.39 L424.23 265.52 L424.71 265.65 L425.19 265.78 L425.67 265.92 L426.16 266.05 L426.64 266.18 L427.12 266.31 M437.96 269.28 L438.44 269.41 L438.92 269.54 L439.40 269.67 L439.88 269.80 L440.37 269.93 L440.85 270.06 L441.33 270.19 L441.81 270.32 L442.29 270.45 L442.78 270.58 L443.26 270.71 L443.74 270.84 L444.22 270.97 L444.70 271.10 L445.19 271.24 L445.67 271.37 L446.15 271.50 L446.63 271.63 L447.11 271.76 L447.60 271.89 L448.08 272.01 L448.56 272.14 L449.04 272.27 L449.53 272.40 L450.01 272.53 L450.49 272.66 M461.34 275.57 L461.83 275.69 L462.31 275.82 L462.79 275.95 L463.27 276.08 L463.76 276.21 L464.24 276.33 L464.72 276.46 L465.20 276.59 L465.69 276.72 L466.17 276.85 L466.65 276.98 L467.14 277.10 L467.62 277.23 L468.10 277.36 L468.58 277.49 L469.07 277.61 L469.55 277.74 L470.03 277.87 L470.52 278.00 L471.00 278.12 L471.48 278.25 L471.96 278.38 L472.45 278.51 L472.93 278.63 L473.41 278.76 L473.90 278.89 M485.25 281.87 L485.73 282.00 L486.21 282.12 L486.70 282.25 L487.18 282.38 L487.66 282.50 L488.15 282.63 L488.63 282.76 L489.11 282.88 L489.59 283.01 L490.08 283.13 L490.56 283.26 L491.04 283.39 L491.53 283.51 L492.01 283.64 L492.49 283.76 L492.98 283.89 L493.46 284.02 L493.94 284.14 L494.43 284.27 L494.91 284.39 L495.39 284.52 L495.88 284.65 L496.36 284.77 L496.84 284.90 L497.33 285.02 L497.81 285.15 L498.29 285.27 L498.78 285.40 L499.26 285.53 L499.75 285.65 L500.23 285.78 L500.71 285.90 L501.20 286.03 L501.68 286.15 L502.16 286.28 L502.65 286.40 L503.13 286.53 L503.61 286.66 L504.10 286.78 L504.58 286.91 L505.06 287.03 L505.55 287.16 L506.03 287.28 L506.51 287.41 L506.76 287.47 M518.12 290.41 L518.61 290.53 L519.09 290.66 L519.57 290.78 L520.06 290.91 L520.54 291.03 L521.02 291.16 L521.51 291.28 L521.99 291.41 L522.48 291.53 L522.96 291.66 L523.44 291.78 L523.93 291.91 L524.41 292.03 L524.89 292.16 L525.38 292.28 L525.86 292.40 L526.35 292.53 L526.83 292.65 L527.31 292.78 L527.80 292.90 L528.28 293.03 L528.77 293.15 L529.25 293.28 L529.73 293.40 L530.22 293.53 L530.46 293.59 M541.11 296.33 L541.59 296.45 L542.07 296.58 L542.56 296.70 L543.04 296.82 L543.53 296.95 L544.01 297.07 L544.49 297.20 L544.98 297.32 L545.46 297.45 L545.95 297.57 L546.43 297.70 L546.91 297.82 L547.40 297.94 L547.88 298.07 L548.37 298.19 L548.85 298.32 L549.33 298.44 L549.82 298.57 L550.30 298.69 L550.79 298.82 L551.27 298.94 L551.75 299.06 L552.24 299.19 L552.72 299.31 L553.21 299.44 L553.69 299.56 L553.93 299.63 M564.58 302.37 L565.07 302.49 L565.55 302.62 L566.03 302.74 L566.52 302.86 L567.00 302.99 L567.49 303.11 L567.97 303.24 L568.46 303.36 L568.94 303.49 L569.42 303.61 L569.91 303.74 L570.39 303.86 L570.88 303.99 L571.36 304.11 L571.84 304.24 L572.33 304.36 L572.81 304.49 L573.30 304.61 L573.78 304.74 L574.26 304.86 L574.75 304.99 L575.23 305.11 L575.72 305.24 L576.20 305.36 L576.69 305.49 L577.17 305.61 L577.41 305.67 M588.30 308.49 L588.79 308.62 L589.27 308.75 L589.76 308.87 L590.24 309.00 L590.72 309.12 L591.21 309.25 L591.69 309.37 L592.18 309.50 L592.66 309.63 L593.14 309.75 L593.63 309.88 L594.11 310.00 L594.60 310.13 L595.08 310.25 L595.56 310.38 L596.05 310.51 L596.53 310.63 L597.02 310.76 L597.50 310.88 L597.99 311.01 L598.47 311.14 L598.95 311.26 L599.44 311.39 L599.92 311.52 L600.41 311.64 L600.65 311.71 M611.78 314.62 L612.26 314.75 L612.75 314.87 L613.23 315.00 L613.71 315.13 L614.20 315.25 L614.68 315.38 L615.17 315.51 L615.65 315.64 L616.13 315.76 L616.62 315.89 L617.10 316.02 L617.59 316.15 L618.07 316.27 L618.55 316.40 L619.04 316.53 L619.52 316.66 L620.01 316.78 L620.49 316.91 L620.97 317.04 L621.46 317.17 L621.94 317.30 L622.42 317.42 L622.91 317.55 L623.39 317.68 L623.88 317.81 L624.36 317.94 L624.60 318.00" stroke="#f00" stroke-width="1.8"/>
<path d="M104.43 59.90 L104.57 56.90 M104.83 49.49 L105.17 46.51 M106.45 38.73 L107.35 35.87 M110.20 28.15 L112.80 26.65 M120.38 28.22 L123.22 29.18 M129.83 33.23 L132.37 34.82 M138.95 39.37 L141.45 41.03 M147.73 45.11 L150.27 46.72 M157.02 50.90 L159.58 52.46 M166.20 56.38 L168.80 57.88 M175.49 61.67 L178.11 63.12 M185.17 66.93 L187.83 68.33 M194.86 71.96 L197.54 73.31 M204.55 76.76 L207.25 78.07 M214.44 81.45 L217.16 82.71 M224.33 85.94 L227.07 87.15 M234.62 90.41 L237.38 91.58 M244.61 94.57 L247.39 95.71 M254.80 98.67 L257.60 99.76 M265.10 102.65 L267.90 103.71 M275.39 106.50 L278.21 107.54 M285.59 110.20 L288.41 111.20 M295.98 113.85 L298.82 114.82 M306.38 117.39 L309.22 118.35 M316.57 120.78 L319.43 121.71 M326.97 124.15 L329.83 125.07 M337.27 127.42 L340.13 128.32 M347.57 130.63 L350.43 131.52 M357.67 133.73 L360.53 134.61 M368.36 136.98 L371.24 137.84 M378.66 140.07 L381.54 140.93 M389.06 143.18 L391.94 144.04 M399.76 146.37 L402.64 147.22 M409.96 149.41 L412.84 150.27 M417.56 151.68 L420.44 152.54 M428.16 154.86 L431.04 155.73 M438.27 157.92 L441.13 158.80 M448.77 161.14 L451.63 162.03 M459.17 164.37 L462.03 165.27 M469.57 167.65 L472.43 168.57 M480.07 171.03 L482.93 171.96 M490.48 174.45 L493.32 175.40 M501.68 178.22 L504.52 179.20 M511.89 181.75 L514.71 182.75 M522.09 185.38 L524.91 186.40 M532.40 189.16 L535.20 190.21 M542.50 192.99 L545.30 194.08 M552.91 197.08 L555.69 198.21 M563.22 201.30 L565.98 202.46 M573.13 205.51 L575.87 206.71 M582.83 209.81 L585.57 211.05 M592.94 214.47 L595.66 215.76 M602.66 219.15 L605.34 220.48 M612.27 223.97 L614.93 225.35 M621.97 229.07 L624.63 230.47" stroke="#00f" stroke-width="1.85"/>
<path d="M108.83 211.50 L108.97 208.50 M109.33 201.00 L109.47 198.00 M109.83 190.00 L109.97 187.00 M110.23 179.19 L110.57 176.21 M112.08 168.26 L112.72 165.34 M114.29 157.76 L115.91 155.24 M121.85 150.07 L124.75 149.33 M132.30 151.24 L135.10 152.31 M142.19 156.62 L144.81 158.08 M151.68 161.86 L154.32 163.29 M161.37 167.04 L164.03 168.44 M170.66 171.85 L173.34 173.21 M180.55 176.81 L183.25 178.13 M190.55 181.65 L193.25 182.94 M200.34 186.25 L203.06 187.50 M209.93 190.61 L212.67 191.84 M220.12 195.11 L222.88 196.31 M230.22 199.44 L232.98 200.60 M240.21 203.60 L242.99 204.73 M250.41 207.72 L253.19 208.83 M260.30 211.63 L263.10 212.71 M270.50 215.55 L273.30 216.62 M281.09 219.53 L283.91 220.58 M291.19 223.25 L294.01 224.27 M301.39 226.93 L304.21 227.94 M311.68 230.58 L314.52 231.58 M322.08 234.21 L324.92 235.20 M331.98 237.63 L334.82 238.60 M342.38 241.18 L345.22 242.15 M352.68 244.67 L355.52 245.64 M363.08 248.18 L365.92 249.14 M373.48 251.69 L376.32 252.64 M384.08 255.26 L386.92 256.22 M394.18 258.67 L397.02 259.63 M404.38 262.14 L407.22 263.11 M414.78 265.70 L417.62 266.68 M423.48 268.72 L426.32 269.71 M433.79 272.34 L436.61 273.34 M444.09 276.02 L446.91 277.04 M454.29 279.73 L457.11 280.77 M464.60 283.56 L467.40 284.62 M474.80 287.45 L477.60 288.53 M484.91 291.39 L487.69 292.50 M495.21 295.53 L497.99 296.66 M499.82 297.41 L502.58 298.57 M509.72 301.56 L512.48 302.74 M519.63 305.84 L522.37 307.05 M529.64 310.31 L532.36 311.57 M539.16 314.79 L541.84 316.12 M549.18 319.88 L551.82 321.30 M558.61 325.12 L561.19 326.65 M567.85 330.79 L570.35 332.44 M576.99 337.03 L579.41 338.80 M585.84 343.75 L588.16 345.65 M594.20 350.87 L596.40 352.90 M602.26 358.61 L604.34 360.77 M609.82 366.79 L611.78 369.06 M616.58 374.93 L618.42 377.30 M623.01 383.56 L624.79 385.98" stroke="#00f" stroke-width="1.85"/>
</g>
<!-- frame + ticks -->
<rect x="89.5" y="2.65" width="561.8" height="491.75" fill="none" stroke="#000" stroke-width="1.6"/>
<path d="M121.60 494.40 v-3.20 M121.60 2.65 v3.20 M153.71 494.40 v-3.20 M153.71 2.65 v3.20 M185.81 494.40 v-3.20 M185.81 2.65 v3.20 M217.91 494.40 v-3.20 M217.91 2.65 v3.20 M250.01 494.40 v-6.90 M250.01 2.65 v6.90 M282.12 494.40 v-3.20 M282.12 2.65 v3.20 M314.22 494.40 v-3.20 M314.22 2.65 v3.20 M346.32 494.40 v-3.20 M346.32 2.65 v3.20 M378.43 494.40 v-3.20 M378.43 2.65 v3.20 M410.53 494.40 v-6.90 M410.53 2.65 v6.90 M442.63 494.40 v-3.20 M442.63 2.65 v3.20 M474.73 494.40 v-3.20 M474.73 2.65 v3.20 M506.84 494.40 v-3.20 M506.84 2.65 v3.20 M538.94 494.40 v-3.20 M538.94 2.65 v3.20 M571.04 494.40 v-6.90 M571.04 2.65 v6.90 M603.15 494.40 v-3.20 M603.15 2.65 v3.20 M635.25 494.40 v-3.20 M635.25 2.65 v3.20 M89.50 494.40 h3.20 M651.30 494.40 h-3.20 M89.50 486.61 h3.20 M651.30 486.61 h-3.20 M89.50 480.03 h3.20 M651.30 480.03 h-3.20 M89.50 474.32 h3.20 M651.30 474.32 h-3.20 M89.50 469.29 h3.20 M651.30 469.29 h-3.20 M89.50 464.79 h7.50 M651.30 464.79 h-7.50 M89.50 435.19 h3.20 M651.30 435.19 h-3.20 M89.50 417.87 h3.20 M651.30 417.87 h-3.20 M89.50 405.58 h3.20 M651.30 405.58 h-3.20 M89.50 396.05 h3.20 M651.30 396.05 h-3.20 M89.50 388.26 h3.20 M651.30 388.26 h-3.20 M89.50 381.68 h3.20 M651.30 381.68 h-3.20 M89.50 375.97 h3.20 M651.30 375.97 h-3.20 M89.50 370.94 h3.20 M651.30 370.94 h-3.20 M89.50 366.44 h7.50 M651.30 366.44 h-7.50 M89.50 336.84 h3.20 M651.30 336.84 h-3.20 M89.50 319.52 h3.20 M651.30 319.52 h-3.20 M89.50 307.23 h3.20 M651.30 307.23 h-3.20 M89.50 297.70 h3.20 M651.30 297.70 h-3.20 M89.50 289.91 h3.20 M651.30 289.91 h-3.20 M89.50 283.33 h3.20 M651.30 283.33 h-3.20 M89.50 277.62 h3.20 M651.30 277.62 h-3.20 M89.50 272.59 h3.20 M651.30 272.59 h-3.20 M89.50 268.09 h7.50 M651.30 268.09 h-7.50 M89.50 238.49 h3.20 M651.30 238.49 h-3.20 M89.50 221.17 h3.20 M651.30 221.17 h-3.20 M89.50 208.88 h3.20 M651.30 208.88 h-3.20 M89.50 199.35 h3.20 M651.30 199.35 h-3.20 M89.50 191.56 h3.20 M651.30 191.56 h-3.20 M89.50 184.98 h3.20 M651.30 184.98 h-3.20 M89.50 179.27 h3.20 M651.30 179.27 h-3.20 M89.50 174.24 h3.20 M651.30 174.24 h-3.20 M89.50 169.74 h7.50 M651.30 169.74 h-7.50 M89.50 140.14 h3.20 M651.30 140.14 h-3.20 M89.50 122.82 h3.20 M651.30 122.82 h-3.20 M89.50 110.53 h3.20 M651.30 110.53 h-3.20 M89.50 101.00 h3.20 M651.30 101.00 h-3.20 M89.50 93.21 h3.20 M651.30 93.21 h-3.20 M89.50 86.63 h3.20 M651.30 86.63 h-3.20 M89.50 80.92 h3.20 M651.30 80.92 h-3.20 M89.50 75.89 h3.20 M651.30 75.89 h-3.20 M89.50 71.39 h7.50 M651.30 71.39 h-7.50 M89.50 41.79 h3.20 M651.30 41.79 h-3.20 M89.50 24.47 h3.20 M651.30 24.47 h-3.20 M89.50 12.18 h3.20 M651.30 12.18 h-3.20 M89.50 2.65 h3.20 M651.30 2.65 h-3.20" stroke="#000" stroke-width="1.5" fill="none"/>
<!-- legend -->
<path d="M148.3 307 H186.7" stroke="#000" stroke-width="1.9"/>
<path d="M148.8 336.6 H162.1 M172.8 336.6 H186.7" stroke="#f00" stroke-width="2"/>
<path d="M150.0 365.9 h3 M161.4 365.9 h3 M172.6 365.9 h3 M184.1 365.9 h3" stroke="#00f" stroke-width="1.8"/>
<!--TEXT-->
<text transform="matrix(0.2136 0 0 0.1784 242.90 78.82)" font-size="100" font-family="Liberation Mono" fill="#000" stroke="#000" stroke-width="3.36" stroke-linejoin="round">dR</text>
<text transform="matrix(0.1370 0 0 0.1343 268.34 83.40)" font-size="100" font-family="Liberation Mono" fill="#000" stroke="#000" stroke-width="4.47" stroke-linejoin="round">2</text>
<text transform="matrix(0.2417 0 0 0.2644 276.25 83.00)" font-size="100" font-family="Liberation Mono" fill="#000" stroke="#000" stroke-width="2.27" stroke-linejoin="round">/</text>
<text transform="matrix(0.1864 0 0 0.1784 290.20 78.82)" font-size="100" font-family="Liberation Mono" fill="#000" stroke="#000" stroke-width="3.36" stroke-linejoin="round">dt</text>
<text transform="matrix(0.2200 0 0 0.1784 129.86 236.42)" font-size="100" font-family="Liberation Mono" fill="#000" stroke="#000" stroke-width="3.36" stroke-linejoin="round">dR</text>
<text transform="matrix(0.1370 0 0 0.1313 156.34 240.80)" font-size="100" font-family="Liberation Mono" fill="#000" stroke="#000" stroke-width="4.57" stroke-linejoin="round">2</text>
<text transform="matrix(0.2417 0 0 0.2795 164.25 240.80)" font-size="100" font-family="Liberation Mono" fill="#000" stroke="#000" stroke-width="2.15" stroke-linejoin="round">/</text>
<text transform="matrix(0.2341 0 0 0.1784 177.66 236.42)" font-size="100" font-family="Liberation Mono" fill="#000" stroke="#000" stroke-width="3.36" stroke-linejoin="round">d</text>
<text transform="matrix(0.2160 0 0 0.2103 190.23 236.58)" font-size="100" font-family="Liberation Serif" font-weight="bold" font-style="italic" fill="#000">ρ</text>
<text transform="matrix(0.1203 0 0 0.1338 202.41 240.85)" font-size="100" font-family="Liberation Serif" font-weight="bold" fill="#000" stroke="#000" stroke-width="5.23" stroke-linejoin="round">H</text>
<text transform="matrix(0.1936 0 0 0.1896 209.95 314.41)" font-size="100" font-family="Liberation Mono" fill="#000" stroke="#000" stroke-width="3.17" stroke-linejoin="round">Exact</text>
<text transform="matrix(0.2228 0 0 0.1926 209.72 344.21)" font-size="100" font-family="Liberation Mono" fill="#f00" stroke="#f00" stroke-width="3.11" stroke-linejoin="round">DGE</text>
<text transform="matrix(0.2204 0 0 0.1956 209.94 374.00)" font-size="100" font-family="Liberation Mono" fill="#00f" stroke="#00f" stroke-width="3.07" stroke-linejoin="round">DGE</text>
<text transform="matrix(0.1750 0 0 0.2000 249.97 374.45)" font-size="100" font-family="Liberation Serif" font-weight="bold" fill="#00f" stroke="#00f" stroke-width="1.50" stroke-linejoin="round">,</text>
<text transform="matrix(0.1935 0 0 0.1968 263.08 374.17)" font-size="100" font-family="Liberation Mono" fill="#00f" stroke="#00f" stroke-width="3.05" stroke-linejoin="round">L=ln(1/y-1)</text>
<text transform="matrix(0.2060 0 0 0.2000 595.71 523.80)" font-size="100" font-family="Liberation Serif" font-weight="bold" font-style="italic" fill="#000">ρ</text>
<text transform="matrix(0.1189 0 0 0.1308 608.11 528.15)" font-size="100" font-family="Liberation Serif" font-weight="bold" fill="#000" stroke="#000" stroke-width="5.35" stroke-linejoin="round">H</text>
<text transform="matrix(0.1300 0 0 0.1833 619.62 523.50)" font-size="100" font-family="Liberation Serif" font-weight="bold" fill="#000" stroke="#000" stroke-width="1.64" stroke-linejoin="round">,</text>
<text transform="matrix(0.1878 0 0 0.1940 632.31 523.31)" font-size="100" font-family="Liberation Mono" fill="#000" stroke="#000" stroke-width="3.09" stroke-linejoin="round">t</text>
<text transform="matrix(0.1927 0 0 0.1810 83.20 518.24)" font-size="100" font-family="Liberation Sans" fill="#000" stroke="#000" stroke-width="4.14" stroke-linejoin="round">0</text>
<text transform="matrix(0.1948 0 0 0.1810 230.70 518.24)" font-size="100" font-family="Liberation Sans" fill="#000" stroke="#000" stroke-width="4.14" stroke-linejoin="round">0</text>
<text transform="matrix(0.1850 0 0 0.1591 242.51 518.42)" font-size="100" font-family="Liberation Sans" fill="#000" stroke="#000" stroke-width="4.71" stroke-linejoin="round">.</text>
<text transform="matrix(0.1354 0 0 0.1939 250.10 518.35)" font-size="100" font-family="Liberation Mono" fill="#000" stroke="#000" stroke-width="3.61" stroke-linejoin="round">1</text>
<text transform="matrix(0.1927 0 0 0.1810 391.00 518.24)" font-size="100" font-family="Liberation Sans" fill="#000" stroke="#000" stroke-width="4.14" stroke-linejoin="round">0</text>
<text transform="matrix(0.1850 0 0 0.1591 402.81 518.42)" font-size="100" font-family="Liberation Sans" fill="#000" stroke="#000" stroke-width="4.71" stroke-linejoin="round">.</text>
<text transform="matrix(0.2054 0 0 0.1821 408.55 518.33)" font-size="100" font-family="Liberation Sans" fill="#000" stroke="#000" stroke-width="4.12" stroke-linejoin="round">2</text>
<text transform="matrix(0.1906 0 0 0.1810 551.51 518.24)" font-size="100" font-family="Liberation Sans" fill="#000" stroke="#000" stroke-width="4.14" stroke-linejoin="round">0</text>
<text transform="matrix(0.1850 0 0 0.1591 563.41 518.42)" font-size="100" font-family="Liberation Sans" fill="#000" stroke="#000" stroke-width="4.71" stroke-linejoin="round">.</text>
<text transform="matrix(0.2011 0 0 0.1796 569.37 518.15)" font-size="100" font-family="Liberation Sans" fill="#000" stroke="#000" stroke-width="4.18" stroke-linejoin="round">3</text>
<text transform="matrix(0.1396 0 0 0.2015 33.67 472.36)" font-size="100" font-family="Liberation Mono" fill="#000" stroke="#000" stroke-width="3.47" stroke-linejoin="round">1</text>
<text transform="matrix(0.2135 0 0 0.1908 43.92 472.34)" font-size="100" font-family="Liberation Sans" fill="#000" stroke="#000" stroke-width="3.93" stroke-linejoin="round">0</text>
<text transform="matrix(0.1865 0 0 0.1768 56.33 464.65)" font-size="100" font-family="Liberation Sans" fill="#000" stroke="#000" stroke-width="4.24" stroke-linejoin="round">0</text>
<text transform="matrix(0.1396 0 0 0.2015 33.67 374.05)" font-size="100" font-family="Liberation Mono" fill="#000" stroke="#000" stroke-width="3.47" stroke-linejoin="round">1</text>
<text transform="matrix(0.2135 0 0 0.1908 43.92 374.03)" font-size="100" font-family="Liberation Sans" fill="#000" stroke="#000" stroke-width="3.93" stroke-linejoin="round">0</text>
<text transform="matrix(0.1354 0 0 0.1909 57.30 366.55)" font-size="100" font-family="Liberation Mono" fill="#000" stroke="#000" stroke-width="3.67" stroke-linejoin="round">1</text>
<text transform="matrix(0.1396 0 0 0.2015 33.67 275.74)" font-size="100" font-family="Liberation Mono" fill="#000" stroke="#000" stroke-width="3.47" stroke-linejoin="round">1</text>
<text transform="matrix(0.2135 0 0 0.1908 43.92 275.72)" font-size="100" font-family="Liberation Sans" fill="#000" stroke="#000" stroke-width="3.93" stroke-linejoin="round">0</text>
<text transform="matrix(0.1902 0 0 0.1793 56.22 268.21)" font-size="100" font-family="Liberation Sans" fill="#000" stroke="#000" stroke-width="4.18" stroke-linejoin="round">2</text>
<text transform="matrix(0.1396 0 0 0.2015 33.67 177.43)" font-size="100" font-family="Liberation Mono" fill="#000" stroke="#000" stroke-width="3.47" stroke-linejoin="round">1</text>
<text transform="matrix(0.2135 0 0 0.1908 43.92 177.41)" font-size="100" font-family="Liberation Sans" fill="#000" stroke="#000" stroke-width="3.93" stroke-linejoin="round">0</text>
<text transform="matrix(0.1862 0 0 0.1768 56.43 169.72)" font-size="100" font-family="Liberation Sans" fill="#000" stroke="#000" stroke-width="4.24" stroke-linejoin="round">3</text>
<text transform="matrix(0.1396 0 0 0.2015 33.67 79.12)" font-size="100" font-family="Liberation Mono" fill="#000" stroke="#000" stroke-width="3.47" stroke-linejoin="round">1</text>
<text transform="matrix(0.2135 0 0 0.1908 43.92 79.10)" font-size="100" font-family="Liberation Sans" fill="#000" stroke="#000" stroke-width="3.93" stroke-linejoin="round">0</text>
<text transform="matrix(0.1892 0 0 0.1846 56.40 71.78)" font-size="100" font-family="Liberation Sans" fill="#000" stroke="#000" stroke-width="4.06" stroke-linejoin="round">4</text>
<g transform="rotate(-90)">
<text transform="matrix(0.2155 0 0 0.1878 -245.01 17.41)" font-size="100" font-family="Liberation Mono" fill="#000" stroke="#000" stroke-width="3.19" stroke-linejoin="round">dR</text>
<text transform="matrix(0.1413 0 0 0.1373 -219.69 21.70)" font-size="100" font-family="Liberation Mono" fill="#000" stroke="#000" stroke-width="4.37" stroke-linejoin="round">2</text>
<text transform="matrix(0.2229 0 0 0.2712 -210.74 21.20)" font-size="100" font-family="Liberation Mono" fill="#000" stroke="#000" stroke-width="2.21" stroke-linejoin="round">/</text>
<text transform="matrix(0.2000 0 0 0.1878 -198.30 17.41)" font-size="100" font-family="Liberation Mono" fill="#000" stroke="#000" stroke-width="3.19" stroke-linejoin="round">d</text>
<text transform="matrix(0.2080 0 0 0.2074 -185.98 17.35)" font-size="100" font-family="Liberation Serif" font-weight="bold" font-style="italic" fill="#000">ρ</text>
<text transform="matrix(0.1149 0 0 0.1431 -173.48 21.85)" font-size="100" font-family="Liberation Serif" font-weight="bold" fill="#000" stroke="#000" stroke-width="4.89" stroke-linejoin="round">H</text>
<text transform="matrix(0.1350 0 0 0.1800 -162.28 17.05)" font-size="100" font-family="Liberation Serif" font-weight="bold" fill="#000" stroke="#000" stroke-width="1.67" stroke-linejoin="round">,</text>
<text transform="matrix(0.1417 0 0 0.2015 -146.49 17.60)" font-size="100" font-family="Liberation Mono" fill="#000" stroke="#000" stroke-width="2.98" stroke-linejoin="round">1</text>
<text transform="matrix(0.2357 0 0 0.2134 -136.99 17.52)" font-size="100" font-family="Liberation Serif" font-weight="bold" fill="#000" stroke="#000" stroke-width="1.41" stroke-linejoin="round">0</text>
<text transform="matrix(0.2667 0 0 0.2886 -127.20 27.57)" font-size="100" font-family="Liberation Mono" fill="#000" stroke="#000" stroke-width="2.08" stroke-linejoin="round">*</text>
<text transform="matrix(0.2055 0 0 0.1878 -113.54 17.41)" font-size="100" font-family="Liberation Mono" fill="#000" stroke="#000" stroke-width="3.19" stroke-linejoin="round">dR</text>
<text transform="matrix(0.1413 0 0 0.1373 -87.89 21.70)" font-size="100" font-family="Liberation Mono" fill="#000" stroke="#000" stroke-width="4.37" stroke-linejoin="round">2</text>
<text transform="matrix(0.2229 0 0 0.2712 -78.94 21.20)" font-size="100" font-family="Liberation Mono" fill="#000" stroke="#000" stroke-width="2.21" stroke-linejoin="round">/</text>
<text transform="matrix(0.1864 0 0 0.1905 -66.40 17.61)" font-size="100" font-family="Liberation Mono" fill="#000" stroke="#000" stroke-width="3.15" stroke-linejoin="round">dt</text>
</g>
</svg>
</body></html>
